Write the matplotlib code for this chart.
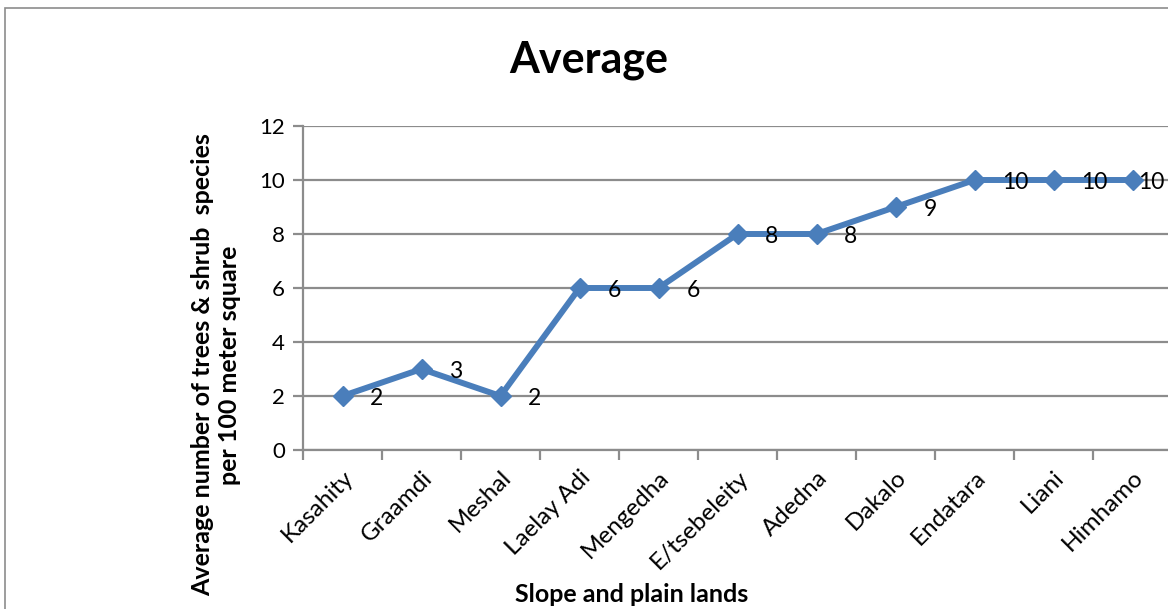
import matplotlib
matplotlib.use("Agg")
import matplotlib.pyplot as plt
from matplotlib.patches import Rectangle

plt.rcParams['font.family'] = ['Lato', 'DejaVu Sans']

sites = ["Kasahity", "Graamdi", "Meshal", "Laelay Adi", "Mengedha", "E/tsebeleity",
         "Adedna", "Dakalo", "Endatara", "Liani", "Himhamo"]
avg_species = [2, 3, 2, 6, 6, 8, 8, 9, 10, 10, 10]
y_ticks = [0, 2, 4, 6, 8, 10, 12]

W, H = 1168, 609
fig = plt.figure(figsize=(W / 100, H / 100), dpi=100)

# chart-area border
fig.patches.append(Rectangle((5 / W, -0.1), 1.2, 1 - 8 / H + 0.1, transform=fig.transFigure,
                             fill=False, edgecolor="#8c8c8c", linewidth=1.2, zorder=0))

ax = fig.add_axes([303 / W, 1 - 450 / H, 869 / W, 324 / H])
ax.set_facecolor("none")

x = list(range(len(sites)))
line_color = "#4A7EBB"
ax.plot(x, avg_species, color=line_color, linewidth=4.3, marker="D", markersize=10.5,
        markerfacecolor=line_color, markeredgecolor=line_color, zorder=3, clip_on=False)

for i, (xi, v) in enumerate(zip(x, avg_species)):
    # the last label is pulled in so it stays inside the chart area
    dx = 4 if i == len(x) - 1 else 20
    ax.annotate(f"{v}", (xi, v), xytext=(dx, -2), textcoords="offset points",
                ha="left", va="center", fontsize=16.5, color="black", zorder=4)

ax.set_xlim(-0.5, len(sites) - 0.5)
ax.set_ylim(0, 12)
ax.set_yticks(y_ticks)
ax.set_yticklabels([str(t) for t in y_ticks], fontsize=16)
ax.yaxis.grid(True, color="#8c8c8c", linewidth=1.6)
ax.set_axisbelow(True)

# category boundaries get the tick marks, labels sit under each category
ax.set_xticks([i - 0.5 for i in range(len(sites) + 1)])
ax.set_xticklabels([])
ax.set_xticks(x, minor=True)
ax.set_xticklabels(sites, minor=True, rotation=45, ha="right", va="top",
                   rotation_mode="anchor", fontsize=17.5)
ax.tick_params(axis="x", which="minor", length=0, pad=12)
ax.tick_params(axis="x", which="major", length=7, width=1.6, color="#8c8c8c", direction="out")
ax.tick_params(axis="y", length=7, width=1.6, color="#8c8c8c", direction="out", pad=6)

for side in ("top", "right"):
    ax.spines[side].set_visible(False)
for side in ("left", "bottom"):
    ax.spines[side].set_color("#8c8c8c")
    ax.spines[side].set_linewidth(1.6)

fig.text(589 / W, 1 - 60 / H, "Average", ha="center", va="center",
         fontsize=31, fontweight="bold")
fig.text(632 / W, 1 - 595 / H, "Slope and plain lands", ha="center", va="center",
         fontsize=18, fontweight="bold")
fig.text(216 / W, 1 - 365 / H,
         "Average number of trees & shrub  species\nper 100 meter square",
         ha="center", va="center", rotation=90, fontsize=18, fontweight="bold",
         linespacing=1.2)

fig.savefig("out.png", dpi=100)
